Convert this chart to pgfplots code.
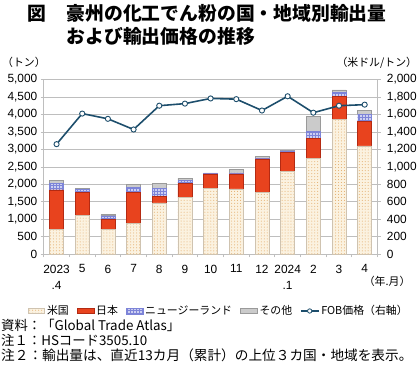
\documentclass[border=0pt]{standalone}
\usepackage{fontspec}
\setmainfont{Liberation Sans}
\newfontfamily\jp{Noto Sans CJK JP}
\usepackage{pgfplots}
\pgfplotsset{compat=1.18}
\usetikzlibrary{patterns}
\definecolor{usfill}{HTML}{FBF2E0}
\definecolor{usdot}{HTML}{E2A862}
\definecolor{usdraw}{HTML}{CFC3B0}
\definecolor{jpfill}{HTML}{E8431E}
\definecolor{jpdraw}{HTML}{B42A12}
\definecolor{nzfill}{HTML}{CDD0F2}
\definecolor{nzline}{HTML}{7D84D8}
\definecolor{otfill}{HTML}{CBCBCB}
\definecolor{otdraw}{HTML}{9A9A9A}
\definecolor{linec}{HTML}{1D4E6C}
\definecolor{gridc}{HTML}{BEBEBE}
\begin{document}
\begin{tikzpicture}
\path (0bp,0bp) rectangle (420bp,372bp);
% title
\node[anchor=west, inner sep=0, font=\jp\bfseries\fontsize{19}{21}\selectfont] at (27bp,358.5bp) {図};
\node[anchor=west, inner sep=0, font=\jp\bfseries\fontsize{19}{21}\selectfont] at (67bp,358.5bp) {豪州の化工でん粉の国・地域別輸出量};
\node[anchor=west, inner sep=0, font=\jp\bfseries\fontsize{19}{21}\selectfont] at (67bp,335.5bp) {および輸出価格の推移};
% unit labels
\node[anchor=west, inner sep=0, font=\jp\fontsize{11}{13}\selectfont] at (2bp,309bp) {（トン）};
\node[anchor=east, inner sep=0, font=\jp\fontsize{11}{13}\selectfont] at (420bp,309bp) {（米ドル/トン）};
\node[anchor=west, inner sep=0, font=\jp\fontsize{11}{13}\selectfont] at (366bp,89bp) {（年.月）};
% notes
\node[anchor=west, inner sep=0, font=\jp\fontsize{13.5}{15}\selectfont] at (1bp,44bp) {資料：「Global Trade Atlas」};
\node[anchor=west, inner sep=0, font=\jp\fontsize{13.5}{15}\selectfont] at (1bp,29bp) {注１：HSコード3505.10};
\node[anchor=west, inner sep=0, font=\jp\fontsize{13.8}{15}\selectfont] at (1bp,14bp) {注２：輸出量は、直近13カ月（累計）の上位３カ国・地域を表示。};

\begin{axis}[
  at={(44bp,116bp)}, anchor=south west, scale only axis,
  width=336bp, height=176bp,
  ybar stacked, bar width=14bp,
  xmin=-0.5, xmax=12.5, ymin=0, ymax=5000,
  axis x line*=bottom, axis y line*=left,
  axis line style={gridc, line width=0.8bp},
  xtick={-0.5,0.5,...,12.5}, xticklabels={},
  extra x ticks={0,1,2,3,4,5,6,7,8,9,10,11,12},
  extra x tick labels={2023\\.4,5,6,7,8,9,10,11,12,2024\\.1,2,3,4},
  extra x tick style={major tick length=0pt, grid=none},
  xticklabel style={align=center, font=\fontsize{12}{17}\selectfont, yshift=-7bp},
  ytick={0,500,...,5000},
  yticklabel style={font=\fontsize{12}{14}\selectfont},
  tick align=outside, major tick length=3bp,
  tick style={gridc, line width=0.8bp},
  ymajorgrids, grid style={gridc, line width=0.8bp},
  /pgf/number format/assume math mode=true,
  /pgf/number format/1000 sep={,},
  scaled y ticks=false,
  legend style={at={(0.524,-0.324)}, anchor=center, draw=none, fill=none,
    font=\jp\fontsize{11}{13}\selectfont, legend columns=-1,
    /tikz/every even column/.append style={column sep=6bp},
    inner sep=0pt},
  legend cell align=left,
]
\addplot[area legend, fill=usfill, draw=usdraw, line width=0.6bp, postaction={pattern=dots, pattern color=usdot}]
 coordinates {(0,720) (1,1120) (2,710) (3,895) (4,1470) (5,1620) (6,1875) (7,1870) (8,1780) (9,2370) (10,2745) (11,3865) (12,3100)};
\addlegendentry{米国}
\addplot[area legend, fill=jpfill, draw=jpdraw, line width=0.6bp]
 coordinates {(0,1120) (1,645) (2,280) (3,870) (4,190) (5,400) (6,425) (7,430) (8,950) (9,540) (10,580) (11,645) (12,700)};
\addlegendentry{日本}
\addplot[area legend, fill=nzfill, draw=nzline, line width=0.4bp, postaction={pattern=grid, pattern color=nzline}]
 coordinates {(0,190) (1,100) (2,113) (3,150) (4,235) (5,95) (6,10) (7,30) (8,20) (9,45) (10,190) (11,115) (12,210)};
\addlegendentry{ニュージーランド}
\addplot[area legend, fill=otfill, draw=otdraw, line width=0.6bp]
 coordinates {(0,75) (1,28) (2,40) (3,75) (4,140) (5,65) (6,20) (7,100) (8,55) (9,30) (10,425) (11,75) (12,95)};
\addlegendentry{その他}
\addlegendimage{legend image code/.code={
   \draw[linec, line width=1.3bp] (0bp,0bp) -- (18bp,0bp);
   \draw[linec, fill=white, line width=0.8bp] (9bp,0bp) circle (2.2bp);}}
\addlegendentry{FOB価格（右軸）}
\end{axis}

\begin{axis}[
  at={(44bp,116bp)}, anchor=south west, scale only axis,
  width=336bp, height=176bp,
  xmin=-0.5, xmax=12.5, ymin=0, ymax=2000,
  axis x line=none, axis y line*=right,
  axis line style={gridc, line width=0.8bp},
  ytick={0,200,...,2000},
  yticklabel style={font=\fontsize{12}{14}\selectfont, xshift=3bp},
  tick align=outside, major tick length=3bp,
  tick style={gridc, line width=0.8bp},
  /pgf/number format/assume math mode=true,
  /pgf/number format/1000 sep={,},
  scaled y ticks=false,
]
\addplot[linec, line width=1.6bp, mark=*, mark size=2.6bp, mark options={fill=white, draw=linec, line width=0.9bp}]
 coordinates {(0,1260) (1,1610) (2,1550) (3,1428) (4,1700) (5,1724) (6,1783) (7,1775) (8,1645) (9,1808) (10,1620) (11,1700) (12,1712)};
\end{axis}
\end{tikzpicture}
\end{document}
